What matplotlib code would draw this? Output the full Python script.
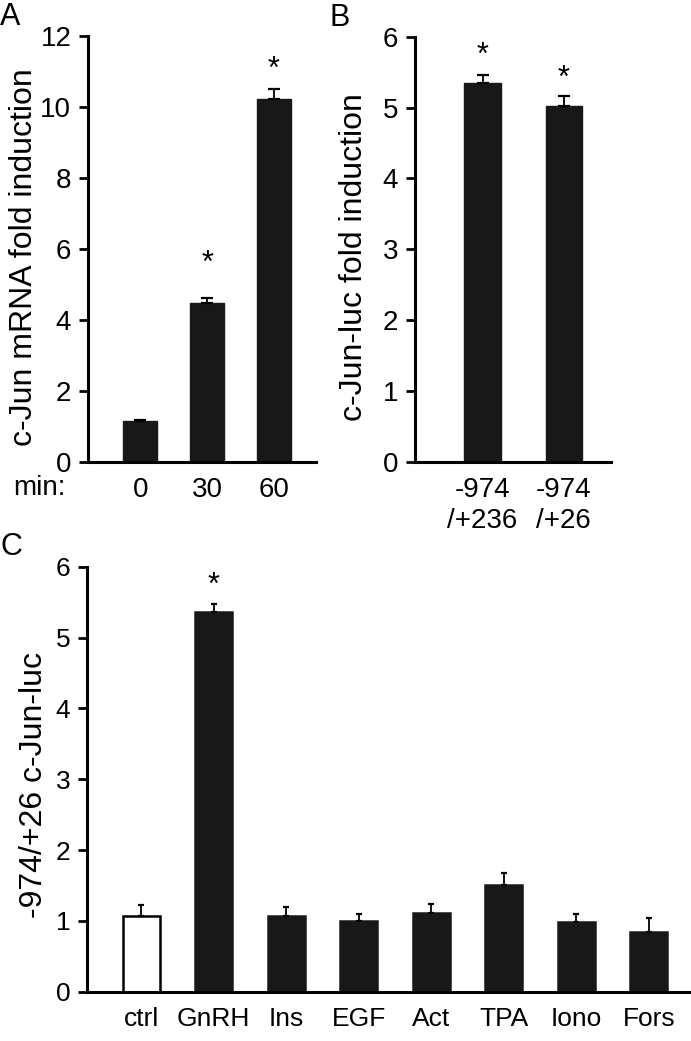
import numpy as np
import matplotlib
matplotlib.use("Agg")
import matplotlib.pyplot as plt

plt.rcParams['font.family'] = ['Liberation Sans', 'DejaVu Sans']

# ---- data ----
a_labels = ["0", "30", "60"]
a_values = [1.15, 4.49, 10.23]
a_errors = [0.02, 0.12, 0.27]
a_stars = [None, 5.83, 11.3]

b_labels = ["-974\n/+236", "-974\n/+26"]
b_values = [5.35, 5.02]
b_errors = [0.11, 0.14]
b_stars = [5.86, 5.53]

c_labels = ["ctrl", "GnRH", "Ins", "EGF", "Act", "TPA", "Iono", "Fors"]
c_values = [1.07, 5.36, 1.07, 1.00, 1.11, 1.50, 0.98, 0.84]
c_errors = [0.15, 0.11, 0.13, 0.09, 0.13, 0.17, 0.11, 0.20]
c_stars = [None, 5.86, None, None, None, None, None, None]

W, H = 691, 1041
fig = plt.figure(figsize=(W / 100, H / 100), dpi=100)

def px_axes(l, r, t, b):
    return fig.add_axes([l / W, 1 - b / H, (r - l) / W, (b - t) / H])

BAR = "#181818"
LABEL_FS = 23

def style(ax, ylim, yticks, tick_fs):
    for s in ("top", "right"):
        ax.spines[s].set_visible(False)
    for s in ("left", "bottom"):
        ax.spines[s].set_linewidth(2.2)
    ax.set_ylim(*ylim)
    ax.set_yticks(yticks)
    ax.tick_params(axis="y", length=6.5, width=2, pad=5.5, labelsize=tick_fs)
    ax.tick_params(axis="x", length=0, pad=11, labelsize=tick_fs)

def stars(ax, vals, fs=22):
    for i, v in enumerate(vals):
        if v is None:
            continue
        ax.annotate("*", (i, v), xytext=(0, -0.55 * fs), textcoords="offset points",
                    ha="center", va="baseline", fontsize=fs)

err_kw = dict(elinewidth=1.3, capthick=1.6, ecolor="black")

# ---- panel A ----
ax = px_axes(88, 316, 36, 462)
x = np.arange(len(a_values))
ax.bar(x, a_values, width=0.51, color=BAR, edgecolor=BAR,
       yerr=[np.zeros(len(a_errors)), a_errors], capsize=4, error_kw=err_kw)
ax.set_xlim(-0.78, 2.63)
ax.set_xticks(x)
ax.set_xticklabels(a_labels)
style(ax, (0, 12), range(0, 13, 2), 20)
ax.set_ylabel("c-Jun mRNA fold induction", fontsize=LABEL_FS)
ax.yaxis.set_label_coords((39 - 88) / (316 - 88), 0.48)
stars(ax, a_stars)
fig.text(13 / W, 1 - 488 / H, "min:", fontsize=20, ha="left", va="center")

# ---- panel B ----
ax = px_axes(415, 611, 36.7, 462)
x = np.arange(len(b_values))
ax.bar(x, b_values, width=0.45, color=BAR, edgecolor=BAR,
       yerr=[np.zeros(len(b_errors)), b_errors], capsize=4, error_kw=err_kw)
ax.set_xlim(-0.83, 1.58)
ax.set_xticks(x)
ax.set_xticklabels(b_labels, linespacing=1.25)
style(ax, (0, 6), range(0, 7), 20)
ax.set_ylabel("c-Jun-luc fold induction", fontsize=LABEL_FS)
ax.yaxis.set_label_coords((369 - 415) / (611 - 415), 0.482)
stars(ax, b_stars)

# ---- panel C ----
ax = px_axes(87, 691, 566.7, 991.7)
x = np.arange(len(c_values))
colors = ["white"] + [BAR] * (len(c_values) - 1)
ax.bar(x, c_values, width=0.51, color=colors, edgecolor=["black"] + [BAR] * 7,
       linewidth=1.8, yerr=[np.zeros(len(c_errors)), c_errors], capsize=2.5,
       error_kw=err_kw)
ax.set_xlim(-0.745, 7.58)
ax.set_xticks(x)
ax.set_xticklabels(c_labels)
style(ax, (0, 6), range(0, 7), 19)
ax.set_ylabel("-974/+26 c-Jun-luc", fontsize=LABEL_FS)
ax.yaxis.set_label_coords((49 - 87) / (691 - 87), 0.486)
stars(ax, c_stars)

# ---- panel letters ----
fig.text(0 / W, 1 - 17 / H, "A", fontsize=22, ha="left", va="center")
fig.text(330 / W, 1 - 18 / H, "B", fontsize=22, ha="left", va="center")
fig.text(0 / W, 1 - 547 / H, "C", fontsize=22, ha="left", va="center")

fig.savefig("out.png", dpi=100)
